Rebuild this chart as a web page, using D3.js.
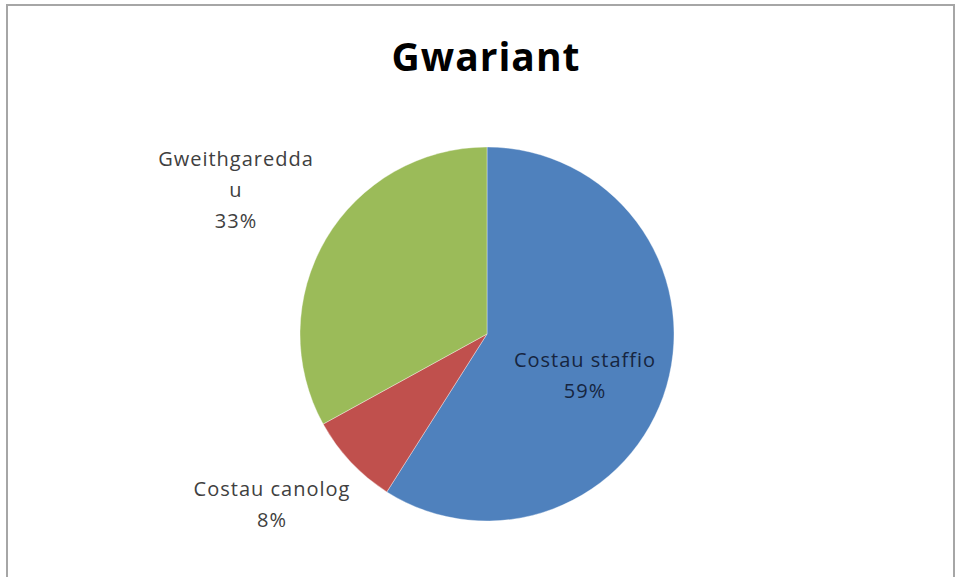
<!DOCTYPE html>
<html><head><meta charset="utf-8">
<script src="https://cdn.jsdelivr.net/npm/d3@7"></script>
<style>body{margin:0;background:#fff}svg{display:block}</style>
</head><body>
<svg id="c" width="955" height="577"></svg>
<script>
const categories = ["Costau staffio", "Costau canolog", "Gweithgareddau"];
const values = [59, 8, 33];
const labelLines = [["Costau staffio", "59%"], ["Costau canolog", "8%"], ["Gweithgaredda", "u", "33%"]];
const colors = ["#4F81BD", "#C0504D", "#9BBB59"];
const title = "Gwariant";

const svg = d3.select("#c");
svg.append("rect").attr("x", 7).attr("y", 5).attr("width", 947).attr("height", 580)
  .attr("fill", "#fff").attr("stroke", "#a6a6a6").attr("stroke-width", 2);

svg.append("text").attr("x", 486).attr("y", 71).attr("text-anchor", "middle")
  .attr("font-family", "Open Sans, sans-serif").attr("font-weight", "bold")
  .attr("font-size", 39).attr("letter-spacing", 1).attr("fill", "#000").text(title);

const cx = 487, cy = 334, r = 187;
const pie = d3.pie().sort(null).value(d => d);
const arcs = pie(values);
const arc = d3.arc().innerRadius(0).outerRadius(r);
const g = svg.append("g").attr("transform", `translate(${cx},${cy})`);
g.selectAll("path").data(arcs).join("path")
  .attr("d", arc).attr("fill", (d, i) => colors[i])
  .attr("stroke", "#fff").attr("stroke-width", 0.6).attr("stroke-opacity", 0.6);

// label anchor positions (centre of first line), expressed relative to pie
const labelPos = [[98, 33], [-215, 162], [-251, -168]];
const textColors = ["#16253f", "#404040", "#404040"];
labelLines.forEach((lines, i) => {
  const t = svg.append("text").attr("text-anchor", "middle")
    .attr("font-family", "Open Sans, sans-serif").attr("font-size", 20)
    .attr("letter-spacing", 1).attr("fill", textColors[i]);
  lines.forEach((ln, j) => {
    t.append("tspan").attr("x", cx + labelPos[i][0]).attr("y", cy + labelPos[i][1] + j * 31).text(ln);
  });
});
</script>
</body></html>
